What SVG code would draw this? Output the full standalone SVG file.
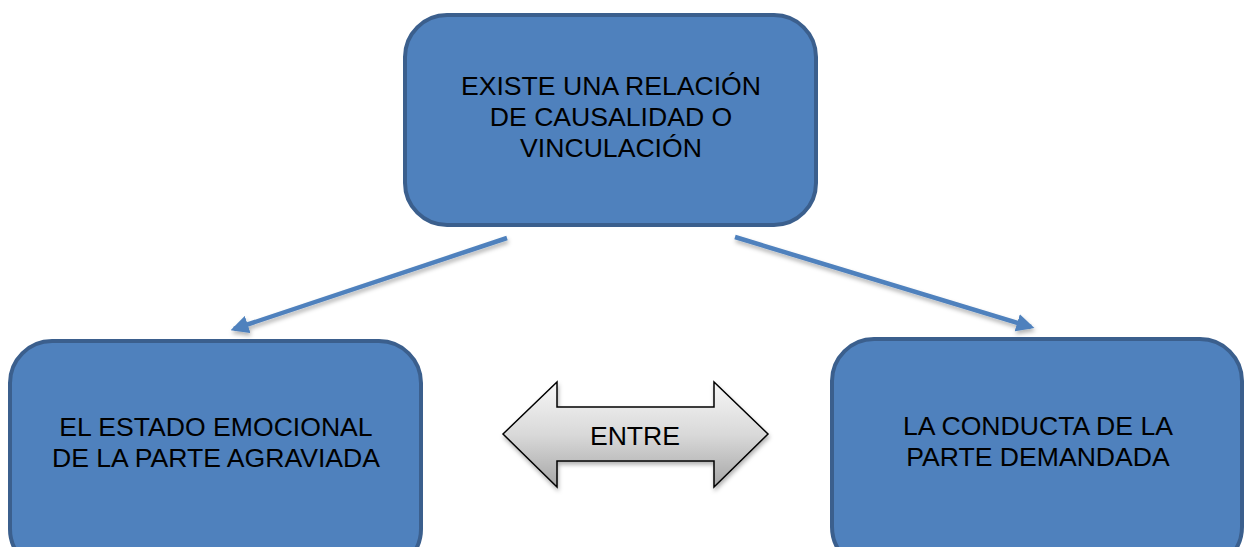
<svg xmlns="http://www.w3.org/2000/svg" width="1244" height="547" viewBox="0 0 1244 547">
<style>
.box{fill:#4f81bd;stroke:#3b5f8d;stroke-width:4}
.lbl{font-family:"Liberation Sans",Arial,sans-serif;font-size:26.6px;fill:#000;text-anchor:middle}
.conn{stroke:#4f81bd;stroke-width:4.5;fill:none;marker-end:url(#ah)}
</style>
<defs>
<marker id="ah" viewBox="0 0 10 10" refX="8" refY="5" markerWidth="4" markerHeight="4" orient="auto" markerUnits="strokeWidth">
<path d="M0,0 L10,5 L0,10 z" fill="#4f81bd"/>
</marker>
<linearGradient id="gr" x1="0" y1="0" x2="0" y2="1">
<stop offset="0" stop-color="#f7f7f7"/>
<stop offset="0.5" stop-color="#d9d9d9"/>
<stop offset="1" stop-color="#a6a6a6"/>
</linearGradient>
<filter id="sh" x="-10%" y="-10%" width="120%" height="130%">
<feDropShadow dx="1" dy="3" stdDeviation="2" flood-color="#000" flood-opacity="0.3"/>
</filter>
</defs>
<g id="connectors" filter="url(#sh)">
<line class="conn" x1="507" y1="238" x2="234" y2="329"/>
<line class="conn" x1="735" y1="237" x2="1031" y2="327"/>
</g>
<g id="node-top">
<rect class="box" x="405" y="15" width="411" height="210" rx="42"/>
<text class="lbl" x="611" y="95">EXISTE UNA RELACIÓN</text>
<text class="lbl" x="611" y="126">DE CAUSALIDAD O</text>
<text class="lbl" x="611" y="157">VINCULACIÓN</text>
</g>
<g id="node-left">
<rect class="box" x="10" y="341" width="411" height="230" rx="42"/>
<text class="lbl" x="216" y="436">EL ESTADO EMOCIONAL</text>
<text class="lbl" x="216" y="467">DE LA PARTE AGRAVIADA</text>
</g>
<g id="node-right">
<rect class="box" x="832" y="339" width="410" height="230" rx="42"/>
<text class="lbl" x="1038" y="435">LA CONDUCTA DE LA</text>
<text class="lbl" x="1038" y="466">PARTE DEMANDADA</text>
</g>
<g id="node-entre">
<path d="M503,434 L557,382 L557,407 L714,407 L714,382 L768,434 L714,487 L714,461 L557,461 L557,487 Z" fill="url(#gr)" stroke="#000" stroke-width="1.5" filter="url(#sh)"/>
<text class="lbl" x="635" y="445">ENTRE</text>
</g>
</svg>
